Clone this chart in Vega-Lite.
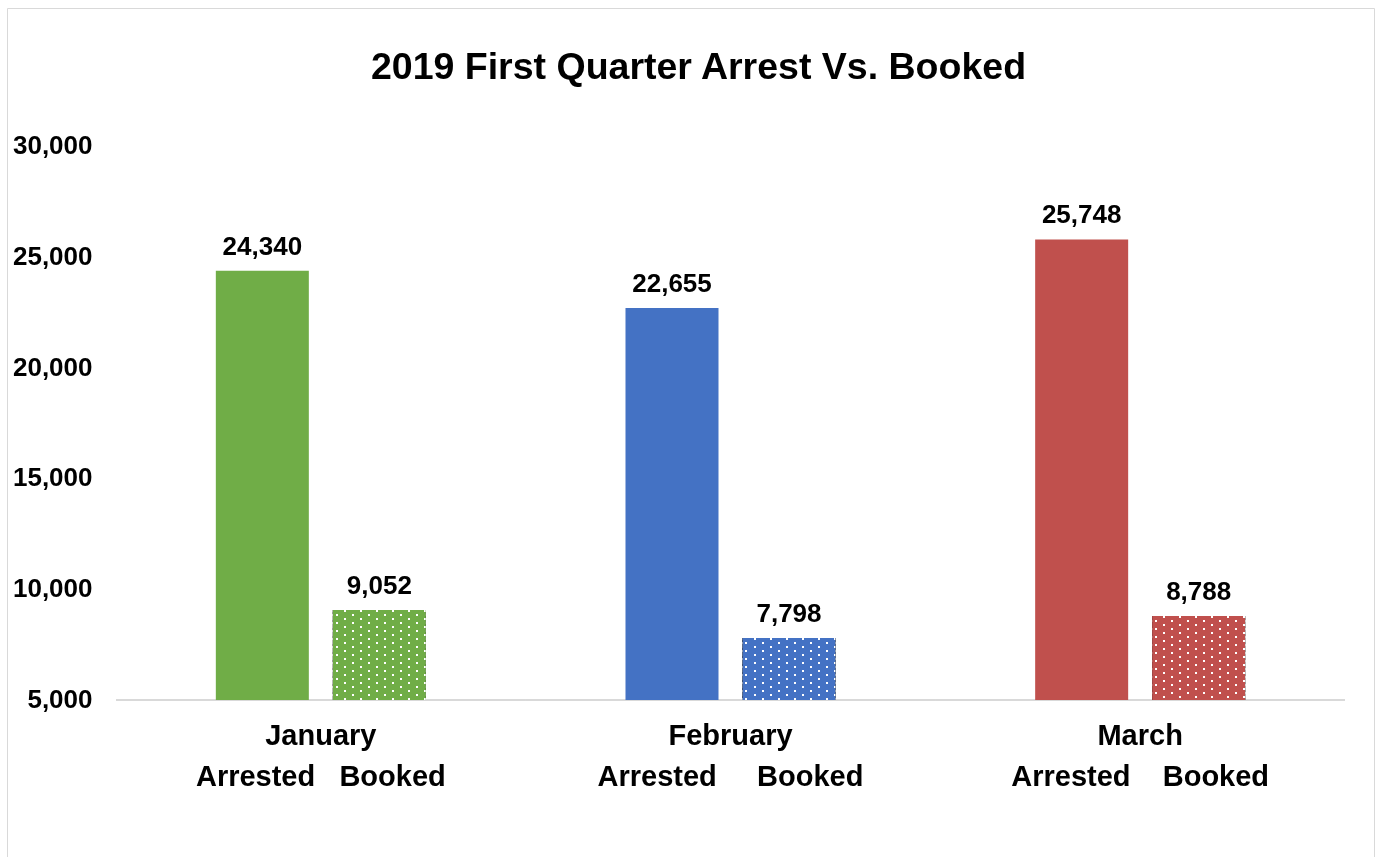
{
  "$schema": "https://vega.github.io/schema/vega-lite/v6.json",
  "autosize": {"type": "none"},
  "width": 1367,
  "height": 849,
  "padding": {"left": 7, "top": 8, "right": 3, "bottom": 0},
  "background": "white",
  "title": {
    "text": "2019 First Quarter Arrest Vs. Booked",
    "font": "Liberation Sans",
    "fontSize": 37.5,
    "fontWeight": "bold",
    "color": "black",
    "anchor": "middle",
    "frame": "group",
    "baseline": "alphabetic",
    "offset": -108,
    "dx": 8
  },
  "data": {
    "values": [
      {"month": "January", "type": "Arrested", "value": 24340},
      {"month": "January", "type": "Booked", "value": 9052},
      {"month": "February", "type": "Arrested", "value": 22655},
      {"month": "February", "type": "Booked", "value": 7798},
      {"month": "March", "type": "Arrested", "value": 25748},
      {"month": "March", "type": "Booked", "value": 8788}
    ]
  },
  "encoding": {
    "x": {
      "field": "month", "type": "nominal", "sort": ["January", "February", "March"], "title": null,
      "scale": {"type": "band", "domain": ["January", "February", "March"], "paddingInner": 0, "paddingOuter": 0.16843, "align": 0.78986},
      "axis": {
        "orient": "bottom", "offset": -157, "domain": false, "ticks": false, "grid": false, "title": null,
        "labelAngle": 0, "labelFont": "Liberation Sans", "labelFontSize": 29, "labelFontWeight": "bold", "labelColor": "black",
        "labelPadding": 21, "labelLineHeight": 41, "labelBaseline": "top", "labelLimit": 1000,
        "labelExpr": "datum.value == 'January' ? ['January', 'Arrested\u00a0\u00a0\u00a0Booked\u00a0'] : datum.value == 'February' ? ['February', 'Arrested\u00a0\u00a0\u00a0\u00a0\u00a0Booked'] : ['March', 'Arrested\u00a0\u00a0\u00a0\u00a0Booked']"
      }
    },
    "y": {
      "field": "value", "type": "quantitative", "title": null,
      "scale": {"domain": [-2072.1, 36171.2], "nice": false, "zero": false},
      "axis": {
        "values": [5000, 10000, 15000, 20000, 25000, 30000],
        "labelExpr": "format(datum.value, ',')",
        "domain": false, "ticks": false, "grid": false, "title": null,
        "offset": -109, "labelPadding": 24, "labelLimit": 1000,
        "labelFont": "Liberation Sans", "labelFontSize": 26, "labelFontWeight": "bold", "labelColor": "black"
      }
    }
  },
  "layer": [
    {
      "mark": {"type": "bar", "fill": null, "stroke": "#D9D9D9", "strokeWidth": 2},
      "encoding": {
        "y": {"datum": 5000, "type": "quantitative"},
        "y2": {"datum": 5000}
      }
    },
    {
      "transform": [{"filter": "datum.type == 'Arrested'"}],
      "mark": {"type": "bar"},
      "encoding": {
        "xOffset": {"field": "type", "type": "nominal", "scale": {"domain": ["Arrested", "Booked"], "paddingInner": 0.2051, "paddingOuter": 0.8532}},
        "y2": {"datum": 5000},
        "color": {"field": "month", "type": "nominal", "scale": {"domain": ["January", "February", "March"], "range": ["#70AD47", "#4472C4", "#C0504D"]}, "legend": null}
      }
    },
    {
      "transform": [{"filter": "datum.type == 'Booked'"}],
      "mark": {
        "type": "bar",
        "fill": {
          "gradient": "linear", "x1": 0, "y1": 0, "x2": 1, "y2": 0,
          "stops": [
            {"offset": 0, "color": "#ffffff"}, {"offset": 0.086022, "color": "#ffffff"}, {"offset": 0.086022, "color": "#000000"}, {"offset": 0.172043, "color": "#000000"},
            {"offset": 0.172043, "color": "#ffffff"}, {"offset": 0.258065, "color": "#ffffff"}, {"offset": 0.258065, "color": "#000000"}, {"offset": 0.344086, "color": "#000000"},
            {"offset": 0.344086, "color": "#ffffff"}, {"offset": 0.430108, "color": "#ffffff"}, {"offset": 0.430108, "color": "#000000"}, {"offset": 0.516129, "color": "#000000"},
            {"offset": 0.516129, "color": "#ffffff"}, {"offset": 0.602151, "color": "#ffffff"}, {"offset": 0.602151, "color": "#000000"}, {"offset": 0.688172, "color": "#000000"},
            {"offset": 0.688172, "color": "#ffffff"}, {"offset": 0.774194, "color": "#ffffff"}, {"offset": 0.774194, "color": "#000000"}, {"offset": 0.860215, "color": "#000000"},
            {"offset": 0.860215, "color": "#ffffff"}, {"offset": 0.946237, "color": "#ffffff"}, {"offset": 0.946237, "color": "#000000"}, {"offset": 1, "color": "#000000"}
          ]
        }
      },
      "encoding": {
        "xOffset": {"field": "type", "type": "nominal", "scale": {"domain": ["Arrested", "Booked"], "paddingInner": 0.2051, "paddingOuter": 0.8532}},
        "y2": {"datum": 5000}
      }
    },
    {
      "transform": [{"filter": "datum.type == 'Booked' && datum.month == 'January'"}],
      "mark": {
        "type": "bar", "blend": "difference",
        "fill": {
          "gradient": "linear", "x1": 0, "y1": 0, "x2": 0, "y2": 1.06721,
          "stops": [
            {"offset": 0, "color": "#ffffff"}, {"offset": 0.041667, "color": "#ffffff"}, {"offset": 0.041667, "color": "#000000"}, {"offset": 0.083333, "color": "#000000"},
            {"offset": 0.083333, "color": "#ffffff"}, {"offset": 0.125, "color": "#ffffff"}, {"offset": 0.125, "color": "#000000"}, {"offset": 0.166667, "color": "#000000"},
            {"offset": 0.166667, "color": "#ffffff"}, {"offset": 0.208333, "color": "#ffffff"}, {"offset": 0.208333, "color": "#000000"}, {"offset": 0.25, "color": "#000000"},
            {"offset": 0.25, "color": "#ffffff"}, {"offset": 0.291667, "color": "#ffffff"}, {"offset": 0.291667, "color": "#000000"}, {"offset": 0.333333, "color": "#000000"},
            {"offset": 0.333333, "color": "#ffffff"}, {"offset": 0.375, "color": "#ffffff"}, {"offset": 0.375, "color": "#000000"}, {"offset": 0.416667, "color": "#000000"},
            {"offset": 0.416667, "color": "#ffffff"}, {"offset": 0.458333, "color": "#ffffff"}, {"offset": 0.458333, "color": "#000000"}, {"offset": 0.5, "color": "#000000"},
            {"offset": 0.5, "color": "#ffffff"}, {"offset": 0.541667, "color": "#ffffff"}, {"offset": 0.541667, "color": "#000000"}, {"offset": 0.583333, "color": "#000000"},
            {"offset": 0.583333, "color": "#ffffff"}, {"offset": 0.625, "color": "#ffffff"}, {"offset": 0.625, "color": "#000000"}, {"offset": 0.666667, "color": "#000000"},
            {"offset": 0.666667, "color": "#ffffff"}, {"offset": 0.708333, "color": "#ffffff"}, {"offset": 0.708333, "color": "#000000"}, {"offset": 0.75, "color": "#000000"},
            {"offset": 0.75, "color": "#ffffff"}, {"offset": 0.791667, "color": "#ffffff"}, {"offset": 0.791667, "color": "#000000"}, {"offset": 0.833333, "color": "#000000"},
            {"offset": 0.833333, "color": "#ffffff"}, {"offset": 0.875, "color": "#ffffff"}, {"offset": 0.875, "color": "#000000"}, {"offset": 0.916667, "color": "#000000"},
            {"offset": 0.916667, "color": "#ffffff"}, {"offset": 0.958333, "color": "#ffffff"}, {"offset": 0.958333, "color": "#000000"}, {"offset": 1, "color": "#000000"}
          ]
        }
      },
      "encoding": {
        "xOffset": {"field": "type", "type": "nominal", "scale": {"domain": ["Arrested", "Booked"], "paddingInner": 0.2051, "paddingOuter": 0.8532}},
        "y2": {"datum": 5000}
      }
    },
    {
      "transform": [{"filter": "datum.type == 'Booked' && datum.month == 'February'"}],
      "mark": {
        "type": "bar", "blend": "difference",
        "fill": {
          "gradient": "linear", "x1": 0, "y1": 0, "x2": 0, "y2": 1.54549,
          "stops": [
            {"offset": 0, "color": "#ffffff"}, {"offset": 0.041667, "color": "#ffffff"}, {"offset": 0.041667, "color": "#000000"}, {"offset": 0.083333, "color": "#000000"},
            {"offset": 0.083333, "color": "#ffffff"}, {"offset": 0.125, "color": "#ffffff"}, {"offset": 0.125, "color": "#000000"}, {"offset": 0.166667, "color": "#000000"},
            {"offset": 0.166667, "color": "#ffffff"}, {"offset": 0.208333, "color": "#ffffff"}, {"offset": 0.208333, "color": "#000000"}, {"offset": 0.25, "color": "#000000"},
            {"offset": 0.25, "color": "#ffffff"}, {"offset": 0.291667, "color": "#ffffff"}, {"offset": 0.291667, "color": "#000000"}, {"offset": 0.333333, "color": "#000000"},
            {"offset": 0.333333, "color": "#ffffff"}, {"offset": 0.375, "color": "#ffffff"}, {"offset": 0.375, "color": "#000000"}, {"offset": 0.416667, "color": "#000000"},
            {"offset": 0.416667, "color": "#ffffff"}, {"offset": 0.458333, "color": "#ffffff"}, {"offset": 0.458333, "color": "#000000"}, {"offset": 0.5, "color": "#000000"},
            {"offset": 0.5, "color": "#ffffff"}, {"offset": 0.541667, "color": "#ffffff"}, {"offset": 0.541667, "color": "#000000"}, {"offset": 0.583333, "color": "#000000"},
            {"offset": 0.583333, "color": "#ffffff"}, {"offset": 0.625, "color": "#ffffff"}, {"offset": 0.625, "color": "#000000"}, {"offset": 0.666667, "color": "#000000"},
            {"offset": 0.666667, "color": "#ffffff"}, {"offset": 0.708333, "color": "#ffffff"}, {"offset": 0.708333, "color": "#000000"}, {"offset": 1, "color": "#000000"}
          ]
        }
      },
      "encoding": {
        "xOffset": {"field": "type", "type": "nominal", "scale": {"domain": ["Arrested", "Booked"], "paddingInner": 0.2051, "paddingOuter": 0.8532}},
        "y2": {"datum": 5000}
      }
    },
    {
      "transform": [{"filter": "datum.type == 'Booked' && datum.month == 'March'"}],
      "mark": {
        "type": "bar", "blend": "difference",
        "fill": {
          "gradient": "linear", "x1": 0, "y1": 0, "x2": 0, "y2": 1.14158,
          "stops": [
            {"offset": 0, "color": "#ffffff"}, {"offset": 0.041667, "color": "#ffffff"}, {"offset": 0.041667, "color": "#000000"}, {"offset": 0.083333, "color": "#000000"},
            {"offset": 0.083333, "color": "#ffffff"}, {"offset": 0.125, "color": "#ffffff"}, {"offset": 0.125, "color": "#000000"}, {"offset": 0.166667, "color": "#000000"},
            {"offset": 0.166667, "color": "#ffffff"}, {"offset": 0.208333, "color": "#ffffff"}, {"offset": 0.208333, "color": "#000000"}, {"offset": 0.25, "color": "#000000"},
            {"offset": 0.25, "color": "#ffffff"}, {"offset": 0.291667, "color": "#ffffff"}, {"offset": 0.291667, "color": "#000000"}, {"offset": 0.333333, "color": "#000000"},
            {"offset": 0.333333, "color": "#ffffff"}, {"offset": 0.375, "color": "#ffffff"}, {"offset": 0.375, "color": "#000000"}, {"offset": 0.416667, "color": "#000000"},
            {"offset": 0.416667, "color": "#ffffff"}, {"offset": 0.458333, "color": "#ffffff"}, {"offset": 0.458333, "color": "#000000"}, {"offset": 0.5, "color": "#000000"},
            {"offset": 0.5, "color": "#ffffff"}, {"offset": 0.541667, "color": "#ffffff"}, {"offset": 0.541667, "color": "#000000"}, {"offset": 0.583333, "color": "#000000"},
            {"offset": 0.583333, "color": "#ffffff"}, {"offset": 0.625, "color": "#ffffff"}, {"offset": 0.625, "color": "#000000"}, {"offset": 0.666667, "color": "#000000"},
            {"offset": 0.666667, "color": "#ffffff"}, {"offset": 0.708333, "color": "#ffffff"}, {"offset": 0.708333, "color": "#000000"}, {"offset": 0.75, "color": "#000000"},
            {"offset": 0.75, "color": "#ffffff"}, {"offset": 0.791667, "color": "#ffffff"}, {"offset": 0.791667, "color": "#000000"}, {"offset": 0.833333, "color": "#000000"},
            {"offset": 0.833333, "color": "#ffffff"}, {"offset": 0.875, "color": "#ffffff"}, {"offset": 0.875, "color": "#000000"}, {"offset": 1, "color": "#000000"}
          ]
        }
      },
      "encoding": {
        "xOffset": {"field": "type", "type": "nominal", "scale": {"domain": ["Arrested", "Booked"], "paddingInner": 0.2051, "paddingOuter": 0.8532}},
        "y2": {"datum": 5000}
      }
    },
    {
      "transform": [{"filter": "datum.type == 'Booked'"}],
      "mark": {
        "type": "bar", "blend": "darken",
        "fill": {
          "gradient": "linear", "x1": 0, "y1": 0, "x2": 1, "y2": 0,
          "stops": [
            {"offset": 0, "color": "#000000"},
            {"offset": 0.032258, "color": "#000000"}, {"offset": 0.032258, "color": "#ffffff"}, {"offset": 0.053763, "color": "#ffffff"}, {"offset": 0.053763, "color": "#000000"},
            {"offset": 0.11828, "color": "#000000"}, {"offset": 0.11828, "color": "#ffffff"}, {"offset": 0.139785, "color": "#ffffff"}, {"offset": 0.139785, "color": "#000000"},
            {"offset": 0.204301, "color": "#000000"}, {"offset": 0.204301, "color": "#ffffff"}, {"offset": 0.225806, "color": "#ffffff"}, {"offset": 0.225806, "color": "#000000"},
            {"offset": 0.290323, "color": "#000000"}, {"offset": 0.290323, "color": "#ffffff"}, {"offset": 0.311828, "color": "#ffffff"}, {"offset": 0.311828, "color": "#000000"},
            {"offset": 0.376344, "color": "#000000"}, {"offset": 0.376344, "color": "#ffffff"}, {"offset": 0.397849, "color": "#ffffff"}, {"offset": 0.397849, "color": "#000000"},
            {"offset": 0.462366, "color": "#000000"}, {"offset": 0.462366, "color": "#ffffff"}, {"offset": 0.483871, "color": "#ffffff"}, {"offset": 0.483871, "color": "#000000"},
            {"offset": 0.548387, "color": "#000000"}, {"offset": 0.548387, "color": "#ffffff"}, {"offset": 0.569892, "color": "#ffffff"}, {"offset": 0.569892, "color": "#000000"},
            {"offset": 0.634409, "color": "#000000"}, {"offset": 0.634409, "color": "#ffffff"}, {"offset": 0.655914, "color": "#ffffff"}, {"offset": 0.655914, "color": "#000000"},
            {"offset": 0.72043, "color": "#000000"}, {"offset": 0.72043, "color": "#ffffff"}, {"offset": 0.741935, "color": "#ffffff"}, {"offset": 0.741935, "color": "#000000"},
            {"offset": 0.806452, "color": "#000000"}, {"offset": 0.806452, "color": "#ffffff"}, {"offset": 0.827957, "color": "#ffffff"}, {"offset": 0.827957, "color": "#000000"},
            {"offset": 0.892473, "color": "#000000"}, {"offset": 0.892473, "color": "#ffffff"}, {"offset": 0.913978, "color": "#ffffff"}, {"offset": 0.913978, "color": "#000000"},
            {"offset": 0.978495, "color": "#000000"}, {"offset": 0.978495, "color": "#ffffff"}, {"offset": 1, "color": "#ffffff"}
          ]
        }
      },
      "encoding": {
        "xOffset": {"field": "type", "type": "nominal", "scale": {"domain": ["Arrested", "Booked"], "paddingInner": 0.2051, "paddingOuter": 0.8532}},
        "y2": {"datum": 5000}
      }
    },
    {
      "transform": [{"filter": "datum.type == 'Booked' && datum.month == 'January'"}],
      "mark": {
        "type": "bar", "blend": "darken",
        "fill": {
          "gradient": "linear", "x1": 0, "y1": 0, "x2": 0, "y2": 1.06721,
          "stops": [
            {"offset": 0, "color": "#ffffff"},
            {"offset": 0.020833, "color": "#ffffff"}, {"offset": 0.020833, "color": "#000000"}, {"offset": 0.041667, "color": "#000000"}, {"offset": 0.041667, "color": "#ffffff"},
            {"offset": 0.0625, "color": "#ffffff"}, {"offset": 0.0625, "color": "#000000"}, {"offset": 0.083333, "color": "#000000"}, {"offset": 0.083333, "color": "#ffffff"},
            {"offset": 0.104167, "color": "#ffffff"}, {"offset": 0.104167, "color": "#000000"}, {"offset": 0.125, "color": "#000000"}, {"offset": 0.125, "color": "#ffffff"},
            {"offset": 0.145833, "color": "#ffffff"}, {"offset": 0.145833, "color": "#000000"}, {"offset": 0.166667, "color": "#000000"}, {"offset": 0.166667, "color": "#ffffff"},
            {"offset": 0.1875, "color": "#ffffff"}, {"offset": 0.1875, "color": "#000000"}, {"offset": 0.208333, "color": "#000000"}, {"offset": 0.208333, "color": "#ffffff"},
            {"offset": 0.229167, "color": "#ffffff"}, {"offset": 0.229167, "color": "#000000"}, {"offset": 0.25, "color": "#000000"}, {"offset": 0.25, "color": "#ffffff"},
            {"offset": 0.270833, "color": "#ffffff"}, {"offset": 0.270833, "color": "#000000"}, {"offset": 0.291667, "color": "#000000"}, {"offset": 0.291667, "color": "#ffffff"},
            {"offset": 0.3125, "color": "#ffffff"}, {"offset": 0.3125, "color": "#000000"}, {"offset": 0.333333, "color": "#000000"}, {"offset": 0.333333, "color": "#ffffff"},
            {"offset": 0.354167, "color": "#ffffff"}, {"offset": 0.354167, "color": "#000000"}, {"offset": 0.375, "color": "#000000"}, {"offset": 0.375, "color": "#ffffff"},
            {"offset": 0.395833, "color": "#ffffff"}, {"offset": 0.395833, "color": "#000000"}, {"offset": 0.416667, "color": "#000000"}, {"offset": 0.416667, "color": "#ffffff"},
            {"offset": 0.4375, "color": "#ffffff"}, {"offset": 0.4375, "color": "#000000"}, {"offset": 0.458333, "color": "#000000"}, {"offset": 0.458333, "color": "#ffffff"},
            {"offset": 0.479167, "color": "#ffffff"}, {"offset": 0.479167, "color": "#000000"}, {"offset": 0.5, "color": "#000000"}, {"offset": 0.5, "color": "#ffffff"},
            {"offset": 0.520833, "color": "#ffffff"}, {"offset": 0.520833, "color": "#000000"}, {"offset": 0.541667, "color": "#000000"}, {"offset": 0.541667, "color": "#ffffff"},
            {"offset": 0.5625, "color": "#ffffff"}, {"offset": 0.5625, "color": "#000000"}, {"offset": 0.583333, "color": "#000000"}, {"offset": 0.583333, "color": "#ffffff"},
            {"offset": 0.604167, "color": "#ffffff"}, {"offset": 0.604167, "color": "#000000"}, {"offset": 0.625, "color": "#000000"}, {"offset": 0.625, "color": "#ffffff"},
            {"offset": 0.645833, "color": "#ffffff"}, {"offset": 0.645833, "color": "#000000"}, {"offset": 0.666667, "color": "#000000"}, {"offset": 0.666667, "color": "#ffffff"},
            {"offset": 0.6875, "color": "#ffffff"}, {"offset": 0.6875, "color": "#000000"}, {"offset": 0.708333, "color": "#000000"}, {"offset": 0.708333, "color": "#ffffff"},
            {"offset": 0.729167, "color": "#ffffff"}, {"offset": 0.729167, "color": "#000000"}, {"offset": 0.75, "color": "#000000"}, {"offset": 0.75, "color": "#ffffff"},
            {"offset": 0.770833, "color": "#ffffff"}, {"offset": 0.770833, "color": "#000000"}, {"offset": 0.791667, "color": "#000000"}, {"offset": 0.791667, "color": "#ffffff"},
            {"offset": 0.8125, "color": "#ffffff"}, {"offset": 0.8125, "color": "#000000"}, {"offset": 0.833333, "color": "#000000"}, {"offset": 0.833333, "color": "#ffffff"},
            {"offset": 0.854167, "color": "#ffffff"}, {"offset": 0.854167, "color": "#000000"}, {"offset": 0.875, "color": "#000000"}, {"offset": 0.875, "color": "#ffffff"},
            {"offset": 0.895833, "color": "#ffffff"}, {"offset": 0.895833, "color": "#000000"}, {"offset": 0.916667, "color": "#000000"}, {"offset": 0.916667, "color": "#ffffff"},
            {"offset": 0.9375, "color": "#ffffff"}, {"offset": 0.9375, "color": "#000000"}, {"offset": 1, "color": "#000000"}
          ]
        }
      },
      "encoding": {
        "xOffset": {"field": "type", "type": "nominal", "scale": {"domain": ["Arrested", "Booked"], "paddingInner": 0.2051, "paddingOuter": 0.8532}},
        "y2": {"datum": 5000}
      }
    },
    {
      "transform": [{"filter": "datum.type == 'Booked' && datum.month == 'February'"}],
      "mark": {
        "type": "bar", "blend": "darken",
        "fill": {
          "gradient": "linear", "x1": 0, "y1": 0, "x2": 0, "y2": 1.54549,
          "stops": [
            {"offset": 0, "color": "#ffffff"},
            {"offset": 0.020833, "color": "#ffffff"}, {"offset": 0.020833, "color": "#000000"}, {"offset": 0.041667, "color": "#000000"}, {"offset": 0.041667, "color": "#ffffff"},
            {"offset": 0.0625, "color": "#ffffff"}, {"offset": 0.0625, "color": "#000000"}, {"offset": 0.083333, "color": "#000000"}, {"offset": 0.083333, "color": "#ffffff"},
            {"offset": 0.104167, "color": "#ffffff"}, {"offset": 0.104167, "color": "#000000"}, {"offset": 0.125, "color": "#000000"}, {"offset": 0.125, "color": "#ffffff"},
            {"offset": 0.145833, "color": "#ffffff"}, {"offset": 0.145833, "color": "#000000"}, {"offset": 0.166667, "color": "#000000"}, {"offset": 0.166667, "color": "#ffffff"},
            {"offset": 0.1875, "color": "#ffffff"}, {"offset": 0.1875, "color": "#000000"}, {"offset": 0.208333, "color": "#000000"}, {"offset": 0.208333, "color": "#ffffff"},
            {"offset": 0.229167, "color": "#ffffff"}, {"offset": 0.229167, "color": "#000000"}, {"offset": 0.25, "color": "#000000"}, {"offset": 0.25, "color": "#ffffff"},
            {"offset": 0.270833, "color": "#ffffff"}, {"offset": 0.270833, "color": "#000000"}, {"offset": 0.291667, "color": "#000000"}, {"offset": 0.291667, "color": "#ffffff"},
            {"offset": 0.3125, "color": "#ffffff"}, {"offset": 0.3125, "color": "#000000"}, {"offset": 0.333333, "color": "#000000"}, {"offset": 0.333333, "color": "#ffffff"},
            {"offset": 0.354167, "color": "#ffffff"}, {"offset": 0.354167, "color": "#000000"}, {"offset": 0.375, "color": "#000000"}, {"offset": 0.375, "color": "#ffffff"},
            {"offset": 0.395833, "color": "#ffffff"}, {"offset": 0.395833, "color": "#000000"}, {"offset": 0.416667, "color": "#000000"}, {"offset": 0.416667, "color": "#ffffff"},
            {"offset": 0.4375, "color": "#ffffff"}, {"offset": 0.4375, "color": "#000000"}, {"offset": 0.458333, "color": "#000000"}, {"offset": 0.458333, "color": "#ffffff"},
            {"offset": 0.479167, "color": "#ffffff"}, {"offset": 0.479167, "color": "#000000"}, {"offset": 0.5, "color": "#000000"}, {"offset": 0.5, "color": "#ffffff"},
            {"offset": 0.520833, "color": "#ffffff"}, {"offset": 0.520833, "color": "#000000"}, {"offset": 0.541667, "color": "#000000"}, {"offset": 0.541667, "color": "#ffffff"},
            {"offset": 0.5625, "color": "#ffffff"}, {"offset": 0.5625, "color": "#000000"}, {"offset": 0.583333, "color": "#000000"}, {"offset": 0.583333, "color": "#ffffff"},
            {"offset": 0.604167, "color": "#ffffff"}, {"offset": 0.604167, "color": "#000000"}, {"offset": 0.625, "color": "#000000"}, {"offset": 0.625, "color": "#ffffff"},
            {"offset": 0.645833, "color": "#ffffff"}, {"offset": 0.645833, "color": "#000000"}, {"offset": 1, "color": "#000000"}
          ]
        }
      },
      "encoding": {
        "xOffset": {"field": "type", "type": "nominal", "scale": {"domain": ["Arrested", "Booked"], "paddingInner": 0.2051, "paddingOuter": 0.8532}},
        "y2": {"datum": 5000}
      }
    },
    {
      "transform": [{"filter": "datum.type == 'Booked' && datum.month == 'March'"}],
      "mark": {
        "type": "bar", "blend": "darken",
        "fill": {
          "gradient": "linear", "x1": 0, "y1": 0, "x2": 0, "y2": 1.14158,
          "stops": [
            {"offset": 0, "color": "#ffffff"},
            {"offset": 0.020833, "color": "#ffffff"}, {"offset": 0.020833, "color": "#000000"}, {"offset": 0.041667, "color": "#000000"}, {"offset": 0.041667, "color": "#ffffff"},
            {"offset": 0.0625, "color": "#ffffff"}, {"offset": 0.0625, "color": "#000000"}, {"offset": 0.083333, "color": "#000000"}, {"offset": 0.083333, "color": "#ffffff"},
            {"offset": 0.104167, "color": "#ffffff"}, {"offset": 0.104167, "color": "#000000"}, {"offset": 0.125, "color": "#000000"}, {"offset": 0.125, "color": "#ffffff"},
            {"offset": 0.145833, "color": "#ffffff"}, {"offset": 0.145833, "color": "#000000"}, {"offset": 0.166667, "color": "#000000"}, {"offset": 0.166667, "color": "#ffffff"},
            {"offset": 0.1875, "color": "#ffffff"}, {"offset": 0.1875, "color": "#000000"}, {"offset": 0.208333, "color": "#000000"}, {"offset": 0.208333, "color": "#ffffff"},
            {"offset": 0.229167, "color": "#ffffff"}, {"offset": 0.229167, "color": "#000000"}, {"offset": 0.25, "color": "#000000"}, {"offset": 0.25, "color": "#ffffff"},
            {"offset": 0.270833, "color": "#ffffff"}, {"offset": 0.270833, "color": "#000000"}, {"offset": 0.291667, "color": "#000000"}, {"offset": 0.291667, "color": "#ffffff"},
            {"offset": 0.3125, "color": "#ffffff"}, {"offset": 0.3125, "color": "#000000"}, {"offset": 0.333333, "color": "#000000"}, {"offset": 0.333333, "color": "#ffffff"},
            {"offset": 0.354167, "color": "#ffffff"}, {"offset": 0.354167, "color": "#000000"}, {"offset": 0.375, "color": "#000000"}, {"offset": 0.375, "color": "#ffffff"},
            {"offset": 0.395833, "color": "#ffffff"}, {"offset": 0.395833, "color": "#000000"}, {"offset": 0.416667, "color": "#000000"}, {"offset": 0.416667, "color": "#ffffff"},
            {"offset": 0.4375, "color": "#ffffff"}, {"offset": 0.4375, "color": "#000000"}, {"offset": 0.458333, "color": "#000000"}, {"offset": 0.458333, "color": "#ffffff"},
            {"offset": 0.479167, "color": "#ffffff"}, {"offset": 0.479167, "color": "#000000"}, {"offset": 0.5, "color": "#000000"}, {"offset": 0.5, "color": "#ffffff"},
            {"offset": 0.520833, "color": "#ffffff"}, {"offset": 0.520833, "color": "#000000"}, {"offset": 0.541667, "color": "#000000"}, {"offset": 0.541667, "color": "#ffffff"},
            {"offset": 0.5625, "color": "#ffffff"}, {"offset": 0.5625, "color": "#000000"}, {"offset": 0.583333, "color": "#000000"}, {"offset": 0.583333, "color": "#ffffff"},
            {"offset": 0.604167, "color": "#ffffff"}, {"offset": 0.604167, "color": "#000000"}, {"offset": 0.625, "color": "#000000"}, {"offset": 0.625, "color": "#ffffff"},
            {"offset": 0.645833, "color": "#ffffff"}, {"offset": 0.645833, "color": "#000000"}, {"offset": 0.666667, "color": "#000000"}, {"offset": 0.666667, "color": "#ffffff"},
            {"offset": 0.6875, "color": "#ffffff"}, {"offset": 0.6875, "color": "#000000"}, {"offset": 0.708333, "color": "#000000"}, {"offset": 0.708333, "color": "#ffffff"},
            {"offset": 0.729167, "color": "#ffffff"}, {"offset": 0.729167, "color": "#000000"}, {"offset": 0.75, "color": "#000000"}, {"offset": 0.75, "color": "#ffffff"},
            {"offset": 0.770833, "color": "#ffffff"}, {"offset": 0.770833, "color": "#000000"}, {"offset": 0.791667, "color": "#000000"}, {"offset": 0.791667, "color": "#ffffff"},
            {"offset": 0.8125, "color": "#ffffff"}, {"offset": 0.8125, "color": "#000000"}, {"offset": 0.833333, "color": "#000000"}, {"offset": 0.833333, "color": "#ffffff"},
            {"offset": 0.854167, "color": "#ffffff"}, {"offset": 0.854167, "color": "#000000"}, {"offset": 0.875, "color": "#000000"}, {"offset": 0.875, "color": "#ffffff"},
            {"offset": 0.895833, "color": "#ffffff"}, {"offset": 0.895833, "color": "#000000"}, {"offset": 1, "color": "#000000"}
          ]
        }
      },
      "encoding": {
        "xOffset": {"field": "type", "type": "nominal", "scale": {"domain": ["Arrested", "Booked"], "paddingInner": 0.2051, "paddingOuter": 0.8532}},
        "y2": {"datum": 5000}
      }
    },
    {
      "transform": [{"filter": "datum.type == 'Booked'"}],
      "mark": {"type": "bar", "blend": "screen"},
      "encoding": {
        "xOffset": {"field": "type", "type": "nominal", "scale": {"domain": ["Arrested", "Booked"], "paddingInner": 0.2051, "paddingOuter": 0.8532}},
        "y2": {"datum": 5000},
        "color": {"field": "month", "type": "nominal", "scale": {"domain": ["January", "February", "March"], "range": ["#70AD47", "#4472C4", "#C0504D"]}, "legend": null}
      }
    },
    {
      "mark": {"type": "text", "font": "Liberation Sans", "fontSize": 26, "fontWeight": "bold", "color": "black", "baseline": "alphabetic", "align": "center", "dy": -16},
      "encoding": {
        "xOffset": {"field": "type", "type": "nominal", "scale": {"domain": ["Arrested", "Booked"], "paddingInner": 0.2051, "paddingOuter": 0.8532}},
        "text": {"field": "value", "type": "quantitative", "format": ","}
      }
    }
  ],
  "config": {
    "view": {"stroke": "#D9D9D9", "strokeWidth": 1}
  }
}
